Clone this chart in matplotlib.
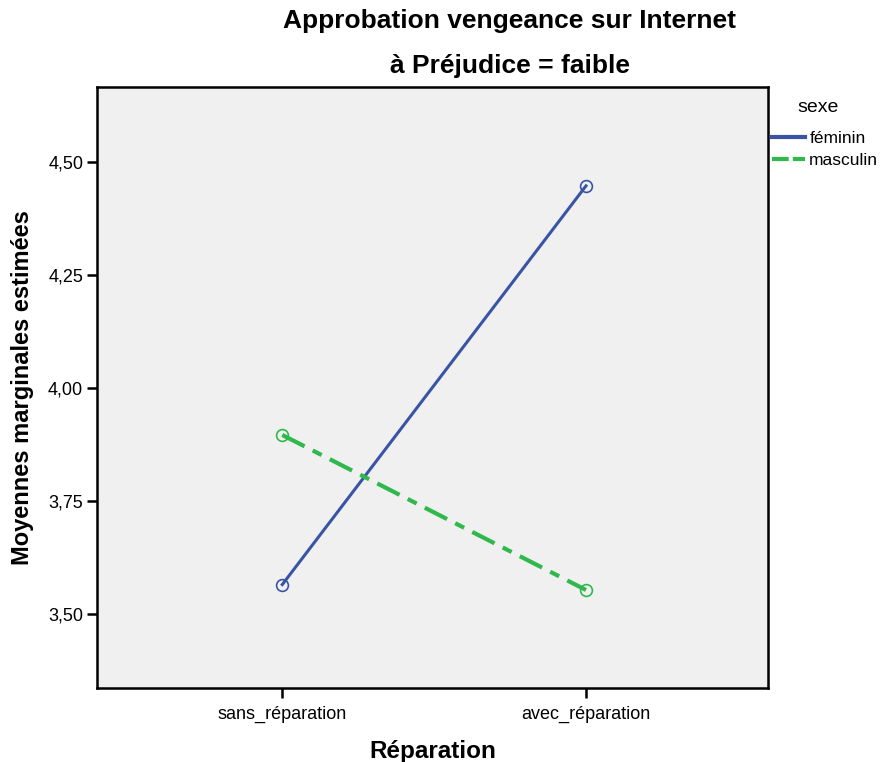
import matplotlib.pyplot as plt

plt.rcParams['font.family'] = ['Liberation Sans', 'DejaVu Sans']

# valeurs
categories = ['sans_réparation', 'avec_réparation']
feminin = [3.565, 4.447]
masculin = [3.896, 3.553]
yticks = [3.50, 3.75, 4.00, 4.25, 4.50]

blue = '#3a54a5'
green = '#2fb84b'

fig = plt.figure(figsize=(8.82, 7.62), dpi=100)
ax = fig.add_axes([0.110, 0.097, 0.761, 0.789])
ax.set_facecolor('#f0f0f0')

x = list(range(len(categories)))
ax.plot(x, feminin, color=blue, lw=2.2, marker='o', ms=8.5, mfc='none',
        mec=blue, mew=1.2, label='féminin')
ax.plot(x, masculin, color=green, lw=3.0, ls=(0, (6, 2.2, 2.4, 2.2)),
        marker='o', ms=8.5, mfc='none', mec=green, mew=1.2, label='masculin')

ax.set_xlim(-0.61, 1.60)
ax.set_ylim(3.336, 4.666)
ax.set_xticks(x)
ax.set_xticklabels(categories, fontsize=13)
ax.set_yticks(yticks)
ax.set_yticklabels([f'{v:.2f}'.replace('.', ',') for v in yticks], fontsize=13)
ax.tick_params(direction='out', length=7, width=1.8, color='black', pad=3)
ax.tick_params(axis='x', pad=6)
for s in ax.spines.values():
    s.set_linewidth(1.8)
    s.set_color('black')

ax.set_xlabel('Réparation', fontsize=17.5, fontweight='bold', labelpad=12)
ax.set_ylabel('Moyennes marginales estimées', fontsize=17, fontweight='bold', labelpad=10)

fig.text(0.578, 0.973, 'Approbation vengeance sur Internet', ha='center', va='center',
         fontsize=19, fontweight='bold')
fig.text(0.578, 0.913, 'à Préjudice = faible', ha='center', va='center',
         fontsize=19, fontweight='bold')

# légende
fig.text(0.928, 0.859, 'sexe', ha='center', va='center', fontsize=14)
leg = ax.legend(loc='center left', bbox_to_anchor=(0.8713, 0.8038),
                bbox_transform=fig.transFigure, frameon=False,
                fontsize=12.5, handlelength=1.9, handletextpad=0.25,
                borderaxespad=0, labelspacing=0.38, borderpad=0.2)
for h in leg.get_lines():
    h.set_marker('')
    h.set_linestyle('-')
    h.set_linewidth(3)
leg.get_lines()[1].set_linestyle((0, (4, 1)))

fig.savefig('out.png', dpi=100)
